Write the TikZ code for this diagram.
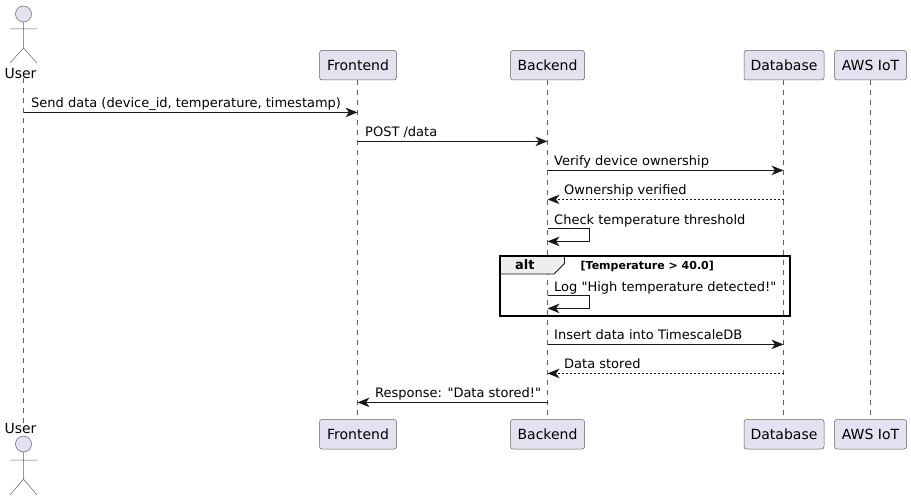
\documentclass[tikz,border=0pt]{standalone}
\usepackage{fontspec}
\newfontfamily\dejafont{DejaVu Sans}
\usepackage{xcolor}
\usetikzlibrary{arrows.meta,positioning}
\definecolor{partFill}{RGB}{226,226,240}
\definecolor{partLine}{RGB}{24,24,24}
\definecolor{thinLine}{RGB}{96,96,96}
\definecolor{tabFill}{RGB}{238,238,238}
\tikzset{
  part/.style={draw=thinLine,line width=0.5pt,fill=partFill,rounded corners=2.5pt,
    minimum height=29.5pt,inner sep=0pt,font=\dejafont\fontsize{14}{16}\selectfont},
  actorname/.style={inner sep=0pt,font=\dejafont\fontsize{14}{16}\selectfont},
  lifeline/.style={draw=thinLine,line width=0.5pt,dash pattern=on 5pt off 5pt},
  actorline/.style={draw=thinLine,line width=0.5pt},
  msg/.style={draw=partLine,line width=1pt,-{Stealth[length=12pt,width=9.5pt,inset=3.5pt]}},
  reply/.style={msg,dash pattern=on 2pt off 2pt},
  msglabel/.style={anchor=base west,inner sep=0pt,font=\dejafont\fontsize{13}{15}\selectfont},
}
\begin{document}
\begin{tikzpicture}[x=1pt,y=-1pt]
  \useasboundingbox (0,0) rectangle (911,500);
  % participants, top row and bottom row
  \node[actorname] (userTop) at (20.5,73) {User};
  \node[part,minimum width=77pt] (frontTop) at (358,65.25) {Frontend};
  \node[part,minimum width=74pt] (backTop) at (547.5,65.25) {Backend};
  \node[part,minimum width=80pt] (dbTop) at (784,65.25) {Database};
  \node[part,minimum width=72pt] (awsTop) at (870.5,65.25) {AWS IoT};
  \node[actorname] (userBot) at (20.5,428) {User};
  \node[part,minimum width=77pt] (frontBot) at (358,434.25) {Frontend};
  \node[part,minimum width=74pt] (backBot) at (547.5,434.25) {Backend};
  \node[part,minimum width=80pt] (dbBot) at (784,434.25) {Database};
  \node[part,minimum width=72pt] (awsBot) at (870.5,434.25) {AWS IoT};
  % lifelines
  \coordinate (userX) at (23.5,0);
  \coordinate (frontX) at (357.5,0);
  \coordinate (dbX) at (783.5,0);
  \draw[lifeline] (userX |- userTop.south) -- (userX |- userBot.north);
  \draw[lifeline] (frontX |- frontTop.south) -- (frontX |- frontBot.north);
  \draw[lifeline] (backTop.south) -- (backBot.north);
  \draw[lifeline] (dbX |- dbTop.south) -- (dbX |- dbBot.north);
  \draw[lifeline] (awsTop.south) -- (awsBot.north);
  % stick figures
  \draw[actorline,fill=partFill] (23.5,14) circle (8);
  \draw[actorline] (23.5,22) -- (23.5,48) (10,29) -- (37,29) (10,63) -- (23.5,48) -- (37,63);
  \draw[actorline,fill=partFill] (23.5,444) circle (8);
  \draw[actorline] (23.5,452) -- (23.5,479) (10,460) -- (37,460) (10,495) -- (23.5,479) -- (37,495);
  % message rows
  \coordinate (rowA) at (0,112.4);
  \coordinate (rowB) at (0,141.4);
  \coordinate (rowC) at (0,170.4);
  \coordinate (rowD) at (0,199.4);
  \coordinate (rowE) at (0,228.4);
  \coordinate (rowF) at (0,241.4);
  \coordinate (rowG) at (0,295.4);
  \coordinate (rowH) at (0,308.4);
  \coordinate (rowI) at (0,344.4);
  \coordinate (rowJ) at (0,373.4);
  \coordinate (rowK) at (0,402.4);
  \coordinate (loopX) at (589.3,0);
  \draw[msg] (userX |- rowA) -- (frontX |- rowA);
  \draw[msg] (frontX |- rowB) -- (backTop |- rowB);
  \draw[msg] (backTop |- rowC) -- (dbX |- rowC);
  \draw[reply] (dbX |- rowD) -- (backTop |- rowD);
  \draw[msg] (backTop |- rowE) -- (loopX |- rowE) -- (loopX |- rowF) -- (backTop |- rowF);
  \draw[msg] (backTop |- rowG) -- (loopX |- rowG) -- (loopX |- rowH) -- (backTop |- rowH);
  \draw[msg] (backTop |- rowI) -- (dbX |- rowI);
  \draw[reply] (dbX |- rowJ) -- (backTop |- rowJ);
  \draw[msg] (backTop |- rowK) -- (frontX |- rowK);
  \node[msglabel] (sendText) at (31,107.5) {Send data (device\_id, temperature, timestamp)};
  \node[msglabel] (postText) at (365,136.5) {POST /data};
  \node[msglabel] (verifyText) at (554,165.5) {Verify device ownership};
  \node[msglabel] (ownedText) at (564,194.5) {Ownership verified};
  \node[msglabel] (checkText) at (554,224) {Check temperature threshold};
  \node[msglabel] (logText) at (554,291) {Log "High temperature detected!"};
  \node[msglabel] (insertText) at (554,339.5) {Insert data into TimescaleDB};
  \node[msglabel] (storedText) at (564,368.5) {Data stored};
  \node[msglabel] (respText) at (375,397.5) {Response: "Data stored!"};
  % alt frame
  \draw[partLine,line width=0.75pt,fill=tabFill] (500,256) -- (564.5,256) -- (564.5,263.5) -- (554,274) -- (500,274) -- cycle;
  \draw[black,line width=1.5pt] (500,256) rectangle (790,316);
  \node[msglabel,font=\dejafont\fontsize{13}{15}\selectfont\bfseries] (altText) at (515,269.5) {alt};
  \node[msglabel,font=\dejafont\fontsize{11}{13}\selectfont\bfseries] (condText) at (580.5,269.5) {[Temperature > 40.0]};
\end{tikzpicture}
\end{document}
